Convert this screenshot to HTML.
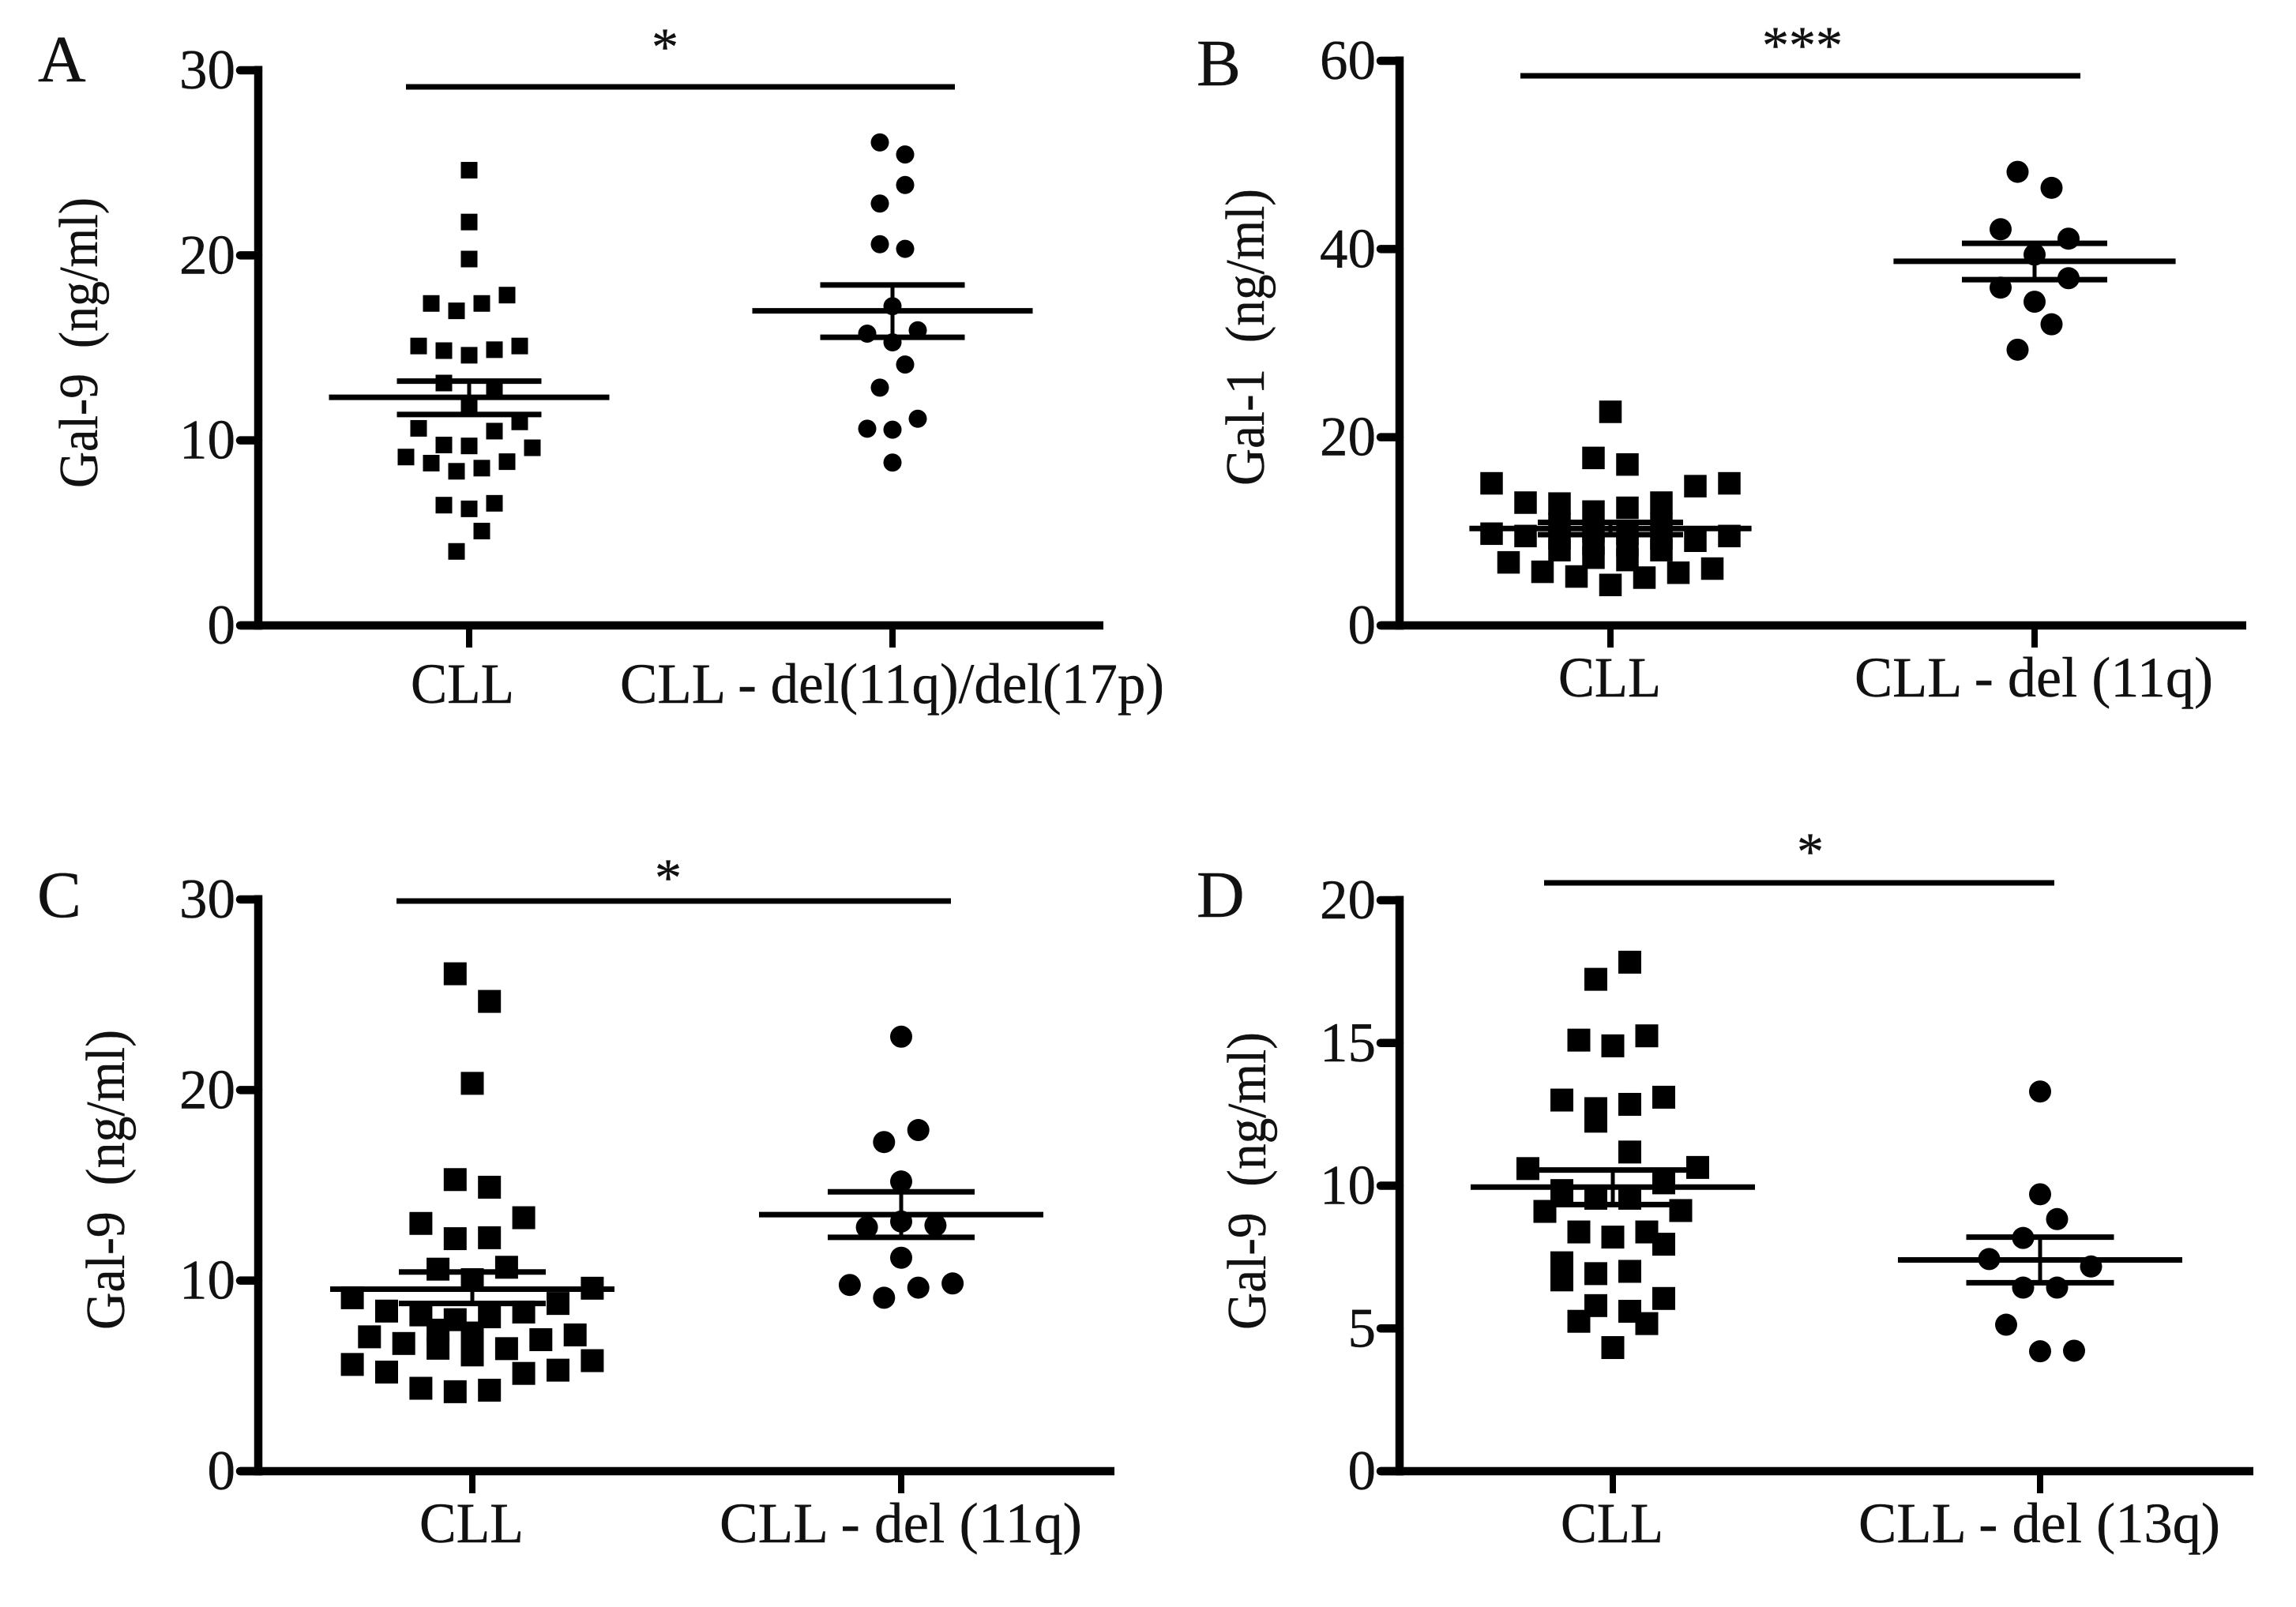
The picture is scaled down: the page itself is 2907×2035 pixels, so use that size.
<!DOCTYPE html>
<html lang="en">
<head>
<meta charset="utf-8">
<title>Galectin levels in CLL subgroups</title>
<style>
html,body{margin:0;padding:0;background:#fff;}
svg{display:block;}
text{font-family:"Liberation Serif","DejaVu Serif",serif;fill:#111;stroke:#111;stroke-width:0.4;}
</style>
</head>
<body>
<svg id="figure" xmlns="http://www.w3.org/2000/svg" width="2907" height="2035" viewBox="0 0 2907 2035">
<rect x="0" y="0" width="2907" height="2035" fill="#ffffff"/>
</svg>
<script>
// Panel A
const aCategories = ["CLL", "CLL - del(11q)/del(17p)"];
const aTicks = [0, 10, 20, 30];
const aSquares = [24.6,21.8,19.8,17.85,17.4,17.4,17.0,15.1,14.9,15.1,14.85,14.6,13.1,12.7,11.95,11.0,10.65,10.5,9.6,9.7,9.75,9.1,8.85,8.77,8.5,8.33,6.6,6.5,6.3,5.1,4.0];
const aSquareSlots = [0,0,0,3,1,-3,-1,4,2,-4,-2,0,-2,2,0,4,-4,2,5,0,-2,-5,3,-3,1,-1,2,-2,0,1,-1];
const aCircles = [26.1,25.45,23.8,22.8,20.6,20.35,17.25,15.77,15.95,15.3,14.1,12.85,11.17,10.63,10.58,8.8];
const aCircleSlots = [-1,1,1,-1,-1,1,0,-2,2,0,1,-1,2,-2,0,0];
const aSquareStats = [12.33, 13.2, 11.4];
const aCircleStats = [17.0, 18.4, 15.57];

// Panel B
const bCategories = ["CLL", "CLL - del (11q)"];
const bTicks = [0, 20, 40, 60];
const bSquares = [22.7,17.8,17.1,15.1,15.1,14.8,13.05,13.05,12.95,12.5,12.1,9.75,9.5,9.5,9.0,10.76,10.76,10.0,9.75,8.0,8.0,7.2,6.95,9.25,9.25,8.7,8.5,6.7,6.04,5.7,5.6,5.2,5.08,4.3];
const bSquareSlots = [0,-1,1,-7,7,5,-5,3,-3,1,-1,-7,7,-5,5,-3,3,-1,1,-3,3,-1,1,-3,3,-1,1,-6,6,-4,4,-2,2,0];
const bCircles = [48.2,46.5,42.1,41.1,39.4,36.9,35.9,34.4,32.0,29.3];
const bCircleSlots = [-1,1,-2,2,0,2,-2,0,1,-1];
const bSquareStats = [10.3, 10.95, 9.65];
const bCircleStats = [38.7, 40.6, 36.75];

// Panel C
const cCategories = ["CLL", "CLL - del (11q)"];
const cTicks = [0, 10, 20, 30];
const cSquares = [26.1,24.65,20.35,15.3,14.9,13.3,13.0,12.2,12.25,10.7,10.6,10.05,9.6,9.1,8.8,8.4,8.35,8.2,8.1,7.95,7.4,7.15,7.25,7.05,6.9,6.7,6.45,6.43,6.1,5.8,5.6,5.3,5.13,5.2,4.35,4.25,4.17];
const cSquareSlots = [-1,1,0,-1,1,3,-3,-1,1,2,-2,0,7,-7,5,-5,3,-3,1,-1,-2,6,0,-6,4,-4,-2,2,0,7,-7,5,3,-5,-3,1,-1];
const cCircles = [22.8,17.9,17.27,15.2,13.1,12.8,12.9,11.2,9.77,9.85,9.63,9.1];
const cCircleSlots = [0,1,-1,0,0,-2,2,0,-3,3,1,-1];
const cSquareStats = [9.55, 10.45, 8.8];
const cCircleStats = [13.46, 14.66, 12.27];

// Panel D
const dCategories = ["CLL", "CLL - del (13q)"];
const dTicks = [0, 5, 10, 15, 20];
const dSquares = [17.83,17.23,15.25,15.1,14.9,13.1,13.0,12.85,12.7,12.26,11.18,10.6,10.64,10.1,9.83,9.56,9.56,9.1,9.13,8.38,8.38,8.2,7.95,7.3,6.7,7.0,6.92,6.05,5.8,5.6,5.25,5.17,4.33];
const dSquareSlots = [1,-1,2,-2,0,3,-3,1,-1,-1,1,-5,5,3,-3,1,-1,-4,4,-2,2,0,3,-3,-3,1,-1,3,-1,1,-2,2,0];
const dCircles = [13.3,9.7,8.83,8.17,7.43,7.17,6.43,6.43,5.13,4.2,4.22];
const dCircleSlots = [0,0,1,-1,-3,3,-1,1,-2,0,2];
const dSquareStats = [9.95, 10.55, 9.34];
const dCircleStats = [7.4, 8.2, 6.6];

const panels = [
  {id:"panel-a", letter:"A", letterX:48, letterY:103, axisX:327, yZero:792, yTop:89, yMax:30, right:1397, tickLeft:299,
   cat:[594,1130], slot:16, sq:21, r:11.5, meanHalf:177.5, capHalf:91.5,
   sig:[514,1209,110], star:"*", starX:842, starY:82,
   yTitle:"Gal-9\u00a0\u00a0(ng/ml)", yTitleX:123, yTitleY:[618,250],
   labels:[[520,131],[785,689]], labelY:890,
   ticks:aTicks, categories:aCategories, squares:aSquares, squareSlots:aSquareSlots, circles:aCircles, circleSlots:aCircleSlots, squareStats:aSquareStats, circleStats:aCircleStats},
  {id:"panel-b", letter:"B", letterX:1515, letterY:108, axisX:1772, yZero:792, yTop:77, yMax:60, right:2844, tickLeft:1743,
   cat:[2039,2576], slot:21.5, sq:28.5, r:14, meanHalf:178.6, capHalf:92,
   sig:[1925,2634,96], star:"***", starX:2282, starY:80,
   yTitle:"Gal-1\u00a0\u00a0(ng/ml)", yTitleX:1600, yTitleY:[615,239],
   labels:[[1973,130],[2348,454]], labelY:882,
   ticks:bTicks, categories:bCategories, squares:bSquares, squareSlots:bSquareSlots, circles:bCircles, circleSlots:bCircleSlots, squareStats:bSquareStats, circleStats:bCircleStats},
  {id:"panel-c", letter:"C", letterX:47, letterY:1161, axisX:327, yZero:1863, yTop:1139, yMax:30, right:1411, tickLeft:299,
   cat:[598,1141], slot:21.7, sq:29, r:14, meanHalf:180, capHalf:93,
   sig:[502,1204,1141], star:"*", starX:846, starY:1134,
   yTitle:"Gal-9\u00a0\u00a0(ng/ml)", yTitleX:157, yTitleY:[1684,1304],
   labels:[[531,132],[911,459]], labelY:1953,
   ticks:cTicks, categories:cCategories, squares:cSquares, squareSlots:cSquareSlots, circles:cCircles, circleSlots:cCircleSlots, squareStats:cSquareStats, circleStats:cCircleStats},
  {id:"panel-d", letter:"D", letterX:1515, letterY:1161, axisX:1772, yZero:1863, yTop:1140, yMax:20, right:2853, tickLeft:1743,
   cat:[2042,2583], slot:21.5, sq:29, r:14, meanHalf:180, capHalf:93.5,
   sig:[1955,2601,1118], star:"*", starX:2292, starY:1101,
   yTitle:"Gal-9\u00a0\u00a0(ng/ml)", yTitleX:1602, yTitleY:[1684,1307],
   labels:[[1976,130],[2353,458]], labelY:1953,
   ticks:dTicks, categories:dCategories, squares:dSquares, squareSlots:dSquareSlots, circles:dCircles, circleSlots:dCircleSlots, squareStats:dSquareStats, circleStats:dCircleStats}
];

const NS = "http://www.w3.org/2000/svg";
const figure = document.getElementById("figure");

function make(parent, tag, attrs, content) {
  const el = document.createElementNS(NS, tag);
  for (const key in attrs) el.setAttribute(key, attrs[key]);
  if (content !== undefined) el.textContent = content;
  parent.appendChild(el);
  return el;
}

function drawLine(parent, x1, y1, x2, y2, width) {
  return make(parent, "line", {x1:x1, y1:y1, x2:x2, y2:y2, stroke:"#000", "stroke-width":width});
}

function drawPanel(p) {
  const y = v => p.yZero - (v / p.yMax) * (p.yZero - p.yTop);
  const x = (catIndex, slot) => p.cat[catIndex] + slot * p.slot;

  const group = make(figure, "g", {});
  
  

  const letter = make(group, "text", {x:p.letterX, y:p.letterY, "font-size":84}, p.letter);
  
  

  const yAxis = drawLine(group, p.axisX, p.yTop - 5.5, p.axisX, p.yZero + 5.5, 10.5);
  
  

  const xAxis = drawLine(group, p.tickLeft + 5, p.yZero, p.right, p.yZero, 10.5);
  
  

  p.ticks.forEach(t => {
    const tickMark = drawLine(group, p.tickLeft + 5, y(t), p.axisX, y(t), 10.5);
    tickMark.setAttribute("stroke-linecap", "round");
    
    

    const tickLabel = make(group, "text", {"font-size":71, "text-anchor":"end",
      x:p.tickLeft - 1, y:y(t) + 23}, String(t));
    
    
  });

  p.categories.forEach((c, i) => {
    const catTick = drawLine(group, p.cat[i], p.yZero, p.cat[i], p.yZero + 28, 8);
    
    

    const catLabel = make(group, "text", {x:p.labels[i][0], y:p.labelY, "font-size":72,
      textLength:p.labels[i][1], lengthAdjust:"spacingAndGlyphs"}, c);
    
    
  });

  const titleLen = p.yTitleY[0] - p.yTitleY[1];
  const title = make(group, "text", {x:0, y:0, "font-size":70, textLength:titleLen, lengthAdjust:"spacingAndGlyphs",
    transform:"translate(" + p.yTitleX + "," + p.yTitleY[0] + ") rotate(-90)"}, p.yTitle);
  
  

  const sigLine = drawLine(group, p.sig[0], p.sig[2], p.sig[1], p.sig[2], 7);
  
  

  const star = make(group, "text", {x:p.starX, y:p.starY, "font-size":68, "text-anchor":"middle"}, p.star);
  
  

  p.squares.forEach((v, i) => {
    const s = make(group, "rect", {x:x(0, p.squareSlots[i]) - p.sq / 2, y:y(v) - p.sq / 2, width:p.sq, height:p.sq, fill:"#000"});
    
    
  });

  p.circles.forEach((v, i) => {
    const c = make(group, "circle", {cx:x(1, p.circleSlots[i]), cy:y(v), r:p.r, fill:"#000"});
    
    
  });

  [p.squareStats, p.circleStats].forEach((stats, i) => {
    const cx = p.cat[i];
    const mean = drawLine(group, cx - p.meanHalf, y(stats[0]), cx + p.meanHalf, y(stats[0]), 7);
    
    

    const upper = drawLine(group, cx - p.capHalf, y(stats[1]), cx + p.capHalf, y(stats[1]), 7);
    
    

    const lower = drawLine(group, cx - p.capHalf, y(stats[2]), cx + p.capHalf, y(stats[2]), 7);
    
    

    const stem = drawLine(group, cx, y(stats[1]), cx, y(stats[2]), 5);
    
    
  });
}

panels.forEach(drawPanel);
</script>
</body>
</html>
